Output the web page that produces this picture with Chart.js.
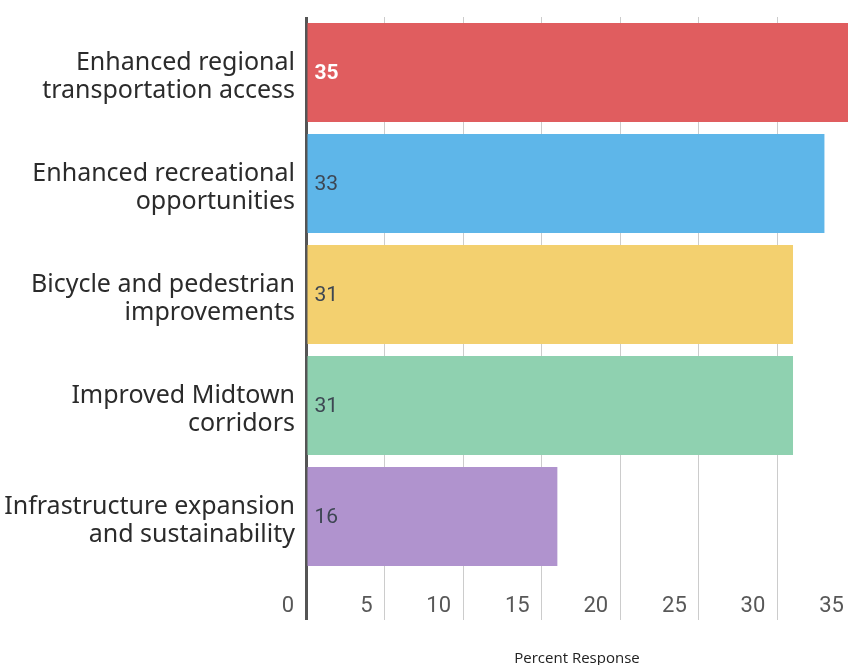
<!DOCTYPE html>
<html>
<head>
<meta charset="utf-8">
<script src="https://cdn.jsdelivr.net/npm/chart.js@4"></script>
<style>
  html, body { margin: 0; padding: 0; background: #fff; }
  #wrap { width: 848px; height: 665px; }
</style>
</head>
<body>
<div id="wrap"><canvas id="chart"></canvas></div>
<script>
var categories = [
    ['Enhanced regional', 'transportation access'],
    ['Enhanced recreational', 'opportunities'],
    ['Bicycle and pedestrian', 'improvements'],
    ['Improved Midtown', 'corridors'],
    ['Infrastructure expansion', 'and sustainability']
];
var values = [35, 33, 31, 31, 16];
var barColors = ['#e05d5f', '#5eb6e9', '#f3d06f', '#8fd1b0', '#b093ce'];
var valueColors = ['#ffffff', '#3d4652', '#3d4652', '#3d4652', '#3d4652'];
var tickValues = [0, 5, 10, 15, 20, 25, 30, 35];

// numeri dentro le barre
var barValues = {
    id: 'barValues',
    afterDatasetsDraw: function(chart) {
        var ctx = chart.ctx;
        var meta = chart.getDatasetMeta(0);
        ctx.save();
        ctx.textAlign = 'left';
        ctx.textBaseline = 'middle';
        meta.data.forEach(function(bar, i) {
            ctx.font = (i === 0 ? 'bold ' : '') + '21px Roboto';
            ctx.fillStyle = valueColors[i];
            ctx.fillText(String(values[i]), bar.base + 7, bar.y + 1);
        });
        ctx.restore();
    }
};

new Chart(document.getElementById('chart'), {
    type: 'bar',
    data: {
        labels: categories,
        datasets: [{
            data: values,
            backgroundColor: barColors,
            borderWidth: 0,
            categoryPercentage: 0.89,
            barPercentage: 1
        }]
    },
    options: {
        indexAxis: 'y',
        responsive: true,
        maintainAspectRatio: false,
        animation: false,
        layout: { padding: { top: 17, right: 0, bottom: 0, left: 0 } },
        plugins: { legend: { display: false }, tooltip: { enabled: false } },
        scales: {
            x: {
                min: 0,
                max: 34.5,
                afterBuildTicks: function(scale) {
                    scale.ticks = tickValues.map(function(v) { return { value: v }; });
                },
                afterFit: function(scale) {
                    scale.height = 93;
                    scale.paddingLeft = 0;
                    scale.paddingRight = 0;
                },
                border: { display: false },
                grid: {
                    color: function(c) { return c.tick && c.tick.value === 0 ? '#555555' : '#cccccc'; },
                    lineWidth: function(c) { return c.tick && c.tick.value === 0 ? 3 : 1; },
                    tickLength: 48
                },
                ticks: {
                    autoSkip: false,
                    align: 'end',
                    labelOffset: -12,
                    padding: -27,
                    maxRotation: 0,
                    color: '#585858',
                    font: { family: 'Roboto', size: 22 }
                },
                title: {
                    display: true,
                    text: 'Percent Response',
                    color: '#222222',
                    padding: { top: 0, bottom: -3 },
                    font: { family: 'Open Sans', size: 15 }
                }
            },
            y: {
                afterFit: function(scale) {
                    scale.width = 306;
                    scale.paddingTop = 0;
                    scale.paddingBottom = 0;
                },
                border: { display: false },
                grid: { display: false },
                ticks: {
                    padding: 3,
                    labelOffset: 4,
                    color: '#2b2b2b',
                    font: { family: 'Noto Sans', size: 25, lineHeight: 1.12 }
                }
            }
        }
    },
    plugins: [barValues]
});
</script>
</body>
</html>
